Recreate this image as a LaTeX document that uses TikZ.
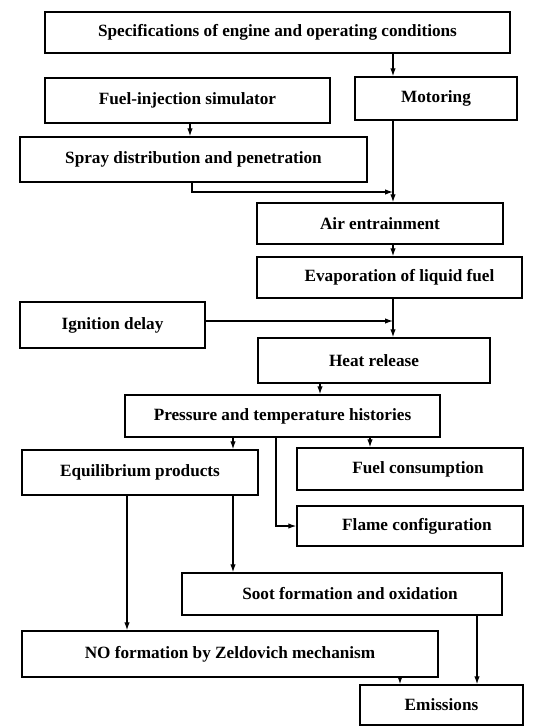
\documentclass[tikz,border=0pt]{standalone}
\usepackage{fontspec}
\setmainfont{Liberation Serif}
\usetikzlibrary{arrows.meta}
\begin{document}
\begin{tikzpicture}[x=1pt,y=-1pt,
  box/.style={draw, line width=1.5pt, inner sep=0pt, font=\fontsize{17.2}{19}\selectfont\bfseries},
  arr/.style={line width=1.2pt, -{Latex[length=8pt,width=5.5pt]}},
  ln/.style={line width=1.2pt}]
\useasboundingbox (0,0) rectangle (550,726);
% boxes
\node[box, minimum width=465pt, minimum height=41pt] (spec) at (277.5,32.5) {Specifications of engine and operating conditions};
\node[box, minimum width=162pt, minimum height=43pt] (mot) at (436,98.5) {Motoring};
\node[box, minimum width=285pt, minimum height=45pt] (fis) at (187.5,100.5) {Fuel-injection simulator};
\node[box, minimum width=347pt, minimum height=45pt] (spray) at (193.5,159.5) {Spray distribution and penetration};
\node[box, minimum width=246pt, minimum height=41pt] (air) at (380,223.5) {Air entrainment};
\node[box, minimum width=265pt, minimum height=41pt] (evap) at (389.5,277.5) {\hspace{20pt}Evaporation of liquid fuel};
\node[box, minimum width=185pt, minimum height=46pt] (ign) at (112.5,325) {Ignition delay};
\node[box, minimum width=232pt, minimum height=45pt] (heat) at (374,360.5) {Heat release};
\node[box, minimum width=315pt, minimum height=42pt] (press) at (282.5,416) {Pressure and temperature histories};
\node[box, minimum width=236pt, minimum height=45pt] (equil) at (140,472.5) {Equilibrium products};
\node[box, minimum width=226pt, minimum height=42pt] (fuelc) at (410,469) {\hspace{16pt}Fuel consumption};
\node[box, minimum width=226pt, minimum height=40pt] (flame) at (410,526) {\hspace{14pt}Flame configuration};
\node[box, minimum width=320pt, minimum height=42pt] (soot) at (342,594) {\hspace{16pt}Soot formation and oxidation};
\node[box, minimum width=416pt, minimum height=46pt] (no) at (230,654) {NO formation by Zeldovich mechanism};
\node[box, minimum width=163pt, minimum height=40pt] (emis) at (441.5,705) {Emissions\hspace{11pt}};
% guide coordinates
\coordinate (xa) at (393,0);
\coordinate (xb) at (190,0);
\coordinate (xc) at (192,0);
\coordinate (j1) at (393,192);
\coordinate (j2) at (393,321);
\coordinate (xd) at (320,0);
\coordinate (xe) at (233,0);
\coordinate (xf) at (370,0);
\coordinate (xg) at (276,0);
\coordinate (xh) at (127,0);
\coordinate (xi) at (400,0);
\coordinate (xj) at (477,0);
% connectors
\draw[arr] (spec.south -| xa) -- (mot.north -| xa);
\draw[arr] (fis.south -| xb) -- (spray.north -| xb);
\draw[arr] (spray.south -| xc) |- (j1);
\draw[arr] (mot.south -| xa) -- (air.north -| xa);
\draw[arr] (air.south -| xa) -- (evap.north -| xa);
\draw[arr] (evap.south -| xa) -- (heat.north -| xa);
\draw[arr] (ign.east |- j2) -- (j2);
\draw[arr] (heat.south -| xd) -- (press.north -| xd);
\draw[arr] (press.south -| xe) -- (equil.north -| xe);
\draw[arr] (press.south -| xf) -- (fuelc.north -| xf);
\draw[arr] (press.south -| xg) |- (flame.west);
\draw[arr] (equil.south -| xh) -- (no.north -| xh);
\draw[arr] (equil.south -| xe) -- (soot.north -| xe);
\draw[arr] (no.south -| xi) -- (emis.north -| xi);
\draw[arr] (soot.south -| xj) -- (emis.north -| xj);
\end{tikzpicture}
\end{document}
